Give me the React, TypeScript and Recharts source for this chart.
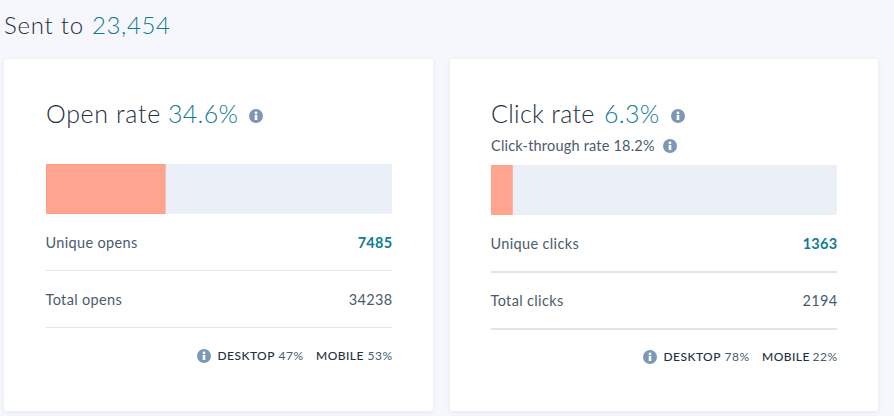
import { CSSProperties } from "react"
import { Bar, BarChart, XAxis, YAxis } from "recharts"

const sentLabel = "Sent to"
const sentValue = "23,454"

const rateNames = ["Open rate", "Click rate"]
const rateValues = [34.6, 6.3]
const restValues = [65.4, 93.7]
const rowLabels = [
  ["Unique opens", "Total opens"],
  ["Unique clicks", "Total clicks"],
]
const rowValues = [
  [7485, 34238],
  [1363, 2194],
]
const desktopShare = [47, 78]
const mobileShare = [53, 22]

const DARK = "#22303f"
const TEAL = "#0f7c94"
const FONT = "Lato, sans-serif"

function InfoIcon({ x, y, size = 14 }: { x: number; y: number; size?: number }) {
  return (
    <svg width={size} height={size} viewBox="0 0 14 14" style={{ position: "absolute", left: x, top: y }}>
      <circle cx="7" cy="7" r="7" fill="#7c98b6" />
      <circle cx="7" cy="3.9" r="1.4" fill="#fff" />
      <rect x="5.7" y="6" width="2.6" height="5" fill="#fff" />
    </svg>
  )
}

function Txt({ x, y, style, children }: { x: number; y: number; style?: CSSProperties; children: React.ReactNode }) {
  return <span style={{ position: "absolute", left: x, top: y, whiteSpace: "nowrap", lineHeight: 1, ...style }}>{children}</span>
}

// right aligned text, x is the right edge
function RTxt({ x, y, style, children }: { x: number; y: number; style?: CSSProperties; children: React.ReactNode }) {
  return <span style={{ position: "absolute", right: 894 - x, top: y, whiteSpace: "nowrap", lineHeight: 1, ...style }}>{children}</span>
}

function RateBar({ index }: { index: number }) {
  const data = [{ name: rateNames[index], rate: rateValues[index], rest: restValues[index] }]
  return (
    <BarChart width={346} height={50} data={data} layout="vertical" margin={{ top: 0, right: 0, bottom: 0, left: 0 }} barCategoryGap={0}>
      <XAxis type="number" domain={[0, 100]} hide />
      <YAxis type="category" dataKey="name" hide />
      <Bar dataKey="rate" stackId="a" fill="#ffa48f" stroke="#f2947f" strokeWidth={0.6} radius={[2, 0, 0, 2]} isAnimationActive={false} />
      <Bar dataKey="rest" stackId="a" fill="#eaeff8" radius={[0, 2, 2, 0]} isAnimationActive={false} />
    </BarChart>
  )
}

const rowText: CSSProperties = { fontSize: 14.5, fontWeight: 400, color: "#4a5b6c", letterSpacing: 0.35 }
const deviceText: CSSProperties = { fontSize: 12, fontWeight: 500, color: DARK, letterSpacing: 0.45 }
const shareText: CSSProperties = { fontSize: 12, fontWeight: 400, color: "#4a5b6c", letterSpacing: 0.45 }

function Card({ index, left, top, right, barLeft, barTop, rowTops, lineTops, lineColor, lineHeight, footTop, iconX, mobileX, desktopPctX }: {
  index: number; left: number; top: number; right: number; barLeft: number; barTop: number; rowTops: number[]; lineTops: number[]; lineColor: string; lineHeight: number; footTop: number; iconX: number; mobileX: number; desktopPctX: number
}) {
  const barRight = barLeft + 346
  return (
    <>
      <div style={{ position: "absolute", left, top, width: right - left, height: 352, background: "#fff", borderRadius: 2, boxShadow: "0 1px 4px rgba(60,80,110,0.10)" }} />
      <div style={{ position: "absolute", left: barLeft, top: barTop }}>
        <RateBar index={index} />
      </div>
      <Txt x={barLeft - 0.5} y={rowTops[0]} style={rowText}>{rowLabels[index][0]}</Txt>
      <RTxt x={barRight + 0.5} y={rowTops[0]} style={{ fontSize: 14.5, fontWeight: 700, color: TEAL, letterSpacing: 0.3 }}>{rowValues[index][0]}</RTxt>
      <div style={{ position: "absolute", left: barLeft, top: lineTops[0], width: 346, height: lineHeight, background: lineColor }} />
      <Txt x={barLeft - 0.5} y={rowTops[1]} style={rowText}>{rowLabels[index][1]}</Txt>
      <RTxt x={barRight + 0.5} y={rowTops[1]} style={rowText}>{rowValues[index][1]}</RTxt>
      <div style={{ position: "absolute", left: barLeft, top: lineTops[1], width: 346, height: lineHeight, background: lineColor }} />
      <InfoIcon x={iconX} y={footTop - 1} />
      <RTxt x={desktopPctX} y={footTop} style={shareText}>{desktopShare[index]}%</RTxt>
      <Txt x={iconX + 20.5} y={footTop} style={deviceText}>DESKTOP</Txt>
      <Txt x={mobileX} y={footTop} style={deviceText}>MOBILE</Txt>
      <RTxt x={barRight + 0.5} y={footTop} style={shareText}>{mobileShare[index]}%</RTxt>
    </>
  )
}

export default function App() {
  return (
    <div style={{ position: "fixed", left: 0, top: 0, width: 894, height: 416, overflow: "hidden", background: "#f5f7fc", fontFamily: FONT }}>
      <Txt x={4} y={13} style={{ fontSize: 24, fontWeight: 300, color: DARK, letterSpacing: 0.75 }}>{sentLabel}</Txt>
      <Txt x={92} y={13} style={{ fontSize: 24, fontWeight: 300, color: TEAL, letterSpacing: 0.6 }}>{sentValue}</Txt>

      <Card index={0} left={4} top={59} right={433} barLeft={46} barTop={164} rowTops={[236, 293]} lineTops={[270, 327]} lineColor="#e3e5ec" lineHeight={1} footTop={350} iconX={197} mobileX={316} desktopPctX={303.5} />
      <Card index={1} left={450} top={59} right={878} barLeft={491} barTop={165} rowTops={[237, 294]} lineTops={[271, 328]} lineColor="#e2e3eb" lineHeight={2} footTop={351} iconX={643} mobileX={762} desktopPctX={749.5} />

      <Txt x={46} y={101} style={{ fontSize: 25, fontWeight: 300, color: DARK, letterSpacing: 0.65 }}>{rateNames[0]}</Txt>
      <Txt x={168} y={101} style={{ fontSize: 25, fontWeight: 300, color: TEAL, letterSpacing: 0.3 }}>{rateValues[0]}%</Txt>
      <InfoIcon x={249} y={109} />

      <Txt x={491} y={101} style={{ fontSize: 25, fontWeight: 300, color: DARK, letterSpacing: 0.3 }}>{rateNames[1]}</Txt>
      <Txt x={604} y={101} style={{ fontSize: 25, fontWeight: 300, color: TEAL, letterSpacing: 0.3 }}>{rateValues[1]}%</Txt>
      <InfoIcon x={671} y={109} />

      <Txt x={491} y={139} style={{ fontSize: 14.5, fontWeight: 400, color: "#4a5b6c", letterSpacing: 0.2 }}>Click-through rate 18.2%</Txt>
      <InfoIcon x={663} y={139} />
    </div>
  )
}
